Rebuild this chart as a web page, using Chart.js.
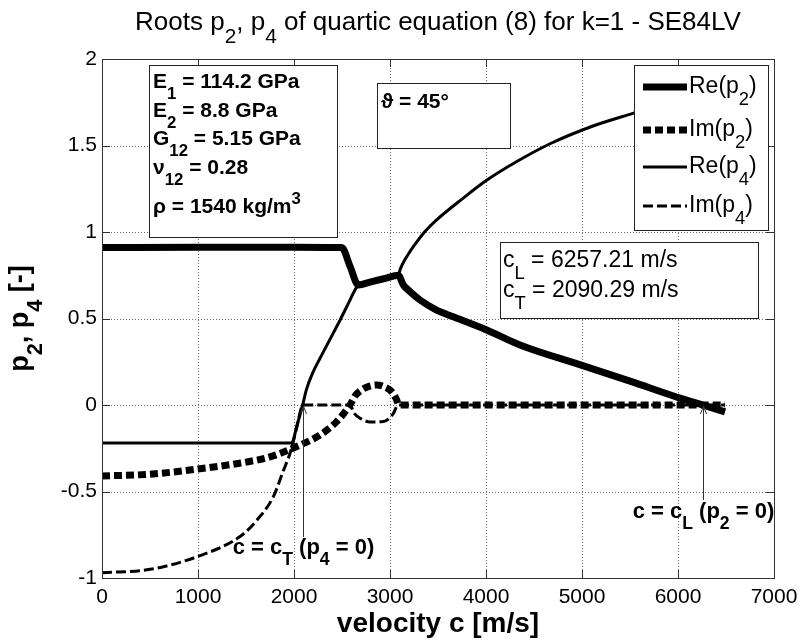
<!DOCTYPE html>
<html>
<head>
<meta charset="utf-8">
<script src="https://cdn.jsdelivr.net/npm/chart.js@4.4.0/dist/chart.umd.min.js"></script>
<style>
  body { margin: 0; background: #fff; }
  canvas { display: block; }
</style>
</head>
<body>
<canvas id="roots_chart" width="800" height="644"></canvas>
<script>
// velocities c [m/s] and root values
const cL = 6257.21;
const cT = 2090.29;

const reP2C = [0, 1000, 2000, 2497, 2585, 2670, 2800, 2950, 3086, 3139, 3200, 3313, 3480, 3660, 4007, 4354, 5000, 5500, 6020, 6257, 6490];
const reP2 = [0.91, 0.912, 0.912, 0.91, 0.8, 0.694, 0.712, 0.732, 0.75, 0.694, 0.66, 0.607, 0.55, 0.51, 0.434, 0.347, 0.229, 0.138, 0.04, 0, -0.04];

const imP2C = [0, 500, 1000, 1500, 1750, 2028, 2271, 2444, 2583, 2640, 2705, 2780, 2861, 2940, 3017, 3069, 3090, 4000, 5000, 6000, 6490];
const imP2 = [-0.41, -0.4, -0.37, -0.33, -0.3, -0.24, -0.173, -0.096, 0, 0.055, 0.087, 0.108, 0.116, 0.105, 0.077, 0.03, 0, 0, 0, 0, 0];

const reP4C = [0, 1000, 1976, 2030, 2090, 2130, 2190, 2271, 2380, 2479, 2560, 2635, 2670, 2800, 2950, 3086, 3110, 3150, 3200, 3243, 3360, 3486, 3750, 4010, 4330, 4667, 5100, 5552, 6000, 6490];
const reP4 = [-0.22, -0.22, -0.22, -0.12, 0, 0.09, 0.18, 0.27, 0.385, 0.49, 0.58, 0.665, 0.694, 0.712, 0.732, 0.75, 0.79, 0.835, 0.88, 0.915, 1.0, 1.07, 1.19, 1.3, 1.41, 1.51, 1.61, 1.69, 1.77, 1.85];

const imP4C = [0, 500, 1000, 1438, 1615, 1785, 1889, 1958, 2031, 2065, 2090, 2583, 2630, 2700, 2792, 2930, 3034, 3083, 3100, 6490];
const imP4 = [-0.97, -0.95, -0.875, -0.76, -0.665, -0.53, -0.38, -0.28, -0.125, -0.04, 0, 0, -0.05, -0.08, -0.098, -0.096, -0.05, 0, 0, 0];

const xTicks = [0, 1000, 2000, 3000, 4000, 5000, 6000, 7000];
const yTicks = [-1, -0.5, 0, 0.5, 1, 1.5, 2];

const seriesLabels = ["Re(p_2)", "Im(p_2)", "Re(p_4)", "Im(p_4)"];

const paramLines = [
  "E_1 = 114.2 GPa",
  "E_2 = 8.8 GPa",
  "G_{12} = 5.15 GPa",
  "\u03bd_{12} = 0.28",
  "\u03c1 = 1540 kg/m^3",
];

function pts(xs, ys) {
  return xs.map((x, i) => ({ x: x, y: ys[i] }));
}

const FONT = '"Liberation Sans", Arial, "DejaVu Sans", sans-serif';

// text with _sub and ^sup parts, like the tex strings of the original
function richText(ctx, str, x, y, size, weight, align) {
  let parts = [];
  let i = 0;
  while (i < str.length) {
    let ch = str[i];
    if ((ch === "_" || ch === "^") && i + 1 < str.length) {
      let txt;
      if (str[i + 1] === "{") {
        let j = str.indexOf("}", i);
        txt = str.slice(i + 2, j);
        i = j + 1;
      } else {
        txt = str[i + 1];
        i += 2;
      }
      parts.push({ t: txt, k: ch });
    } else {
      let j = i;
      while (j < str.length && str[j] !== "_" && str[j] !== "^") j++;
      parts.push({ t: str.slice(i, j), k: "" });
      i = j;
    }
  }
  let w = 0;
  parts.forEach((p) => {
    p.s = p.k ? size * 0.8 : size;
    ctx.font = weight + " " + p.s + "px " + FONT;
    p.w = ctx.measureText(p.t).width;
    w += p.w;
  });
  let cx = align === "center" ? x - w / 2 : align === "right" ? x - w : x;
  ctx.textAlign = "left";
  ctx.textBaseline = "alphabetic";
  parts.forEach((p) => {
    ctx.font = weight + " " + p.s + "px " + FONT;
    let dy = p.k === "_" ? size * 0.5 : p.k === "^" ? -size * 0.42 : 0;
    ctx.fillText(p.t, cx, y + dy);
    cx += p.w;
  });
  return w;
}

function box(ctx, x, y, w, h) {
  ctx.fillStyle = "#fff";
  ctx.fillRect(x, y, w, h);
  ctx.strokeStyle = "#222";
  ctx.lineWidth = 1;
  ctx.setLineDash([]);
  ctx.strokeRect(x + 0.5, y + 0.5, w, h);
}

function arrow(ctx, x, yFrom, yTo) {
  ctx.strokeStyle = "#333";
  ctx.lineWidth = 1;
  ctx.setLineDash([]);
  ctx.beginPath();
  ctx.moveTo(x, yFrom);
  ctx.lineTo(x, yTo);
  ctx.moveTo(x - 3, yTo + 8);
  ctx.lineTo(x, yTo);
  ctx.lineTo(x + 3, yTo + 8);
  ctx.stroke();
}

// dotted matlab style grid under the lines
const dottedGrid = {
  id: "dottedGrid",
  beforeDatasetsDraw(chart) {
    const ctx = chart.ctx;
    const a = chart.chartArea;
    const xs = chart.scales.x;
    const ys = chart.scales.y;
    ctx.save();
    ctx.fillStyle = "#6e6e6e";
    xTicks.forEach((v) => {
      let px = Math.round(xs.getPixelForValue(v));
      for (let y = Math.round(a.top); y < a.bottom; y += 3) ctx.fillRect(px, y, 1, 1);
    });
    yTicks.forEach((v) => {
      let py = Math.round(ys.getPixelForValue(v));
      for (let x = Math.round(a.left); x < a.right; x += 3) ctx.fillRect(x, py, 1, 1);
    });
    ctx.restore();
  },
};

const overlay = {
  id: "overlay",
  afterDraw(chart) {
    const ctx = chart.ctx;
    const a = chart.chartArea;
    const xs = chart.scales.x;
    const ys = chart.scales.y;
    ctx.save();

    // axes box and inward ticks
    ctx.strokeStyle = "#333";
    ctx.lineWidth = 1;
    ctx.setLineDash([]);
    ctx.strokeRect(Math.round(a.left) + 0.5, Math.round(a.top) + 0.5, Math.round(a.right - a.left), Math.round(a.bottom - a.top));
    ctx.beginPath();
    xTicks.forEach((v) => {
      let px = Math.round(xs.getPixelForValue(v)) + 0.5;
      ctx.moveTo(px, a.bottom);
      ctx.lineTo(px, a.bottom - 8);
      ctx.moveTo(px, a.top);
      ctx.lineTo(px, a.top + 8);
    });
    yTicks.forEach((v) => {
      let py = Math.round(ys.getPixelForValue(v)) + 0.5;
      ctx.moveTo(a.left, py);
      ctx.lineTo(a.left + 8, py);
      ctx.moveTo(a.right, py);
      ctx.lineTo(a.right - 8, py);
    });
    ctx.stroke();

    ctx.fillStyle = "#000";
    // title and axis labels
    richText(ctx, "Roots p_2, p_4 of quartic equation (8) for k=1 - SE84LV", (a.left + a.right) / 2, 30, 26, "normal", "center");
    ctx.fillStyle = "#000";
    richText(ctx, "velocity c [m/s]", (a.left + a.right) / 2, 632, 28, "bold", "center");
    ctx.save();
    ctx.translate(28, (a.top + a.bottom) / 2);
    ctx.rotate(-Math.PI / 2);
    ctx.fillStyle = "#000";
    richText(ctx, "p_2, p_4 [-]", 0, 0, 27, "bold", "center");
    ctx.restore();

    // text arrows at c_T and c_L
    let y0 = ys.getPixelForValue(0);
    let xT = Math.round(xs.getPixelForValue(cT)) + 0.5;
    let xL = Math.round(xs.getPixelForValue(cL)) + 0.5;
    arrow(ctx, xT, 537, y0 + 1);
    arrow(ctx, xL, 500, y0 + 1);
    ctx.fillStyle = "#000";
    richText(ctx, "c = c_T (p_4 = 0)", xT, 554, 22, "bold", "center");
    richText(ctx, "c = c_L (p_2 = 0)", xL, 518, 22, "bold", "center");

    // material parameters
    box(ctx, 149, 65, 188, 172);
    ctx.fillStyle = "#000";
    const paramY = [88, 117, 145, 174, 213];
    paramLines.forEach((t, i) => richText(ctx, t, 153, paramY[i], 21, "bold", "left"));

    // fibre angle
    box(ctx, 377, 83, 133, 65);
    ctx.fillStyle = "#000";
    richText(ctx, "\u03d1 = 45\u00b0", 381, 108, 21, "bold", "left");

    // bulk wave speeds
    box(ctx, 500, 242, 258, 76);
    ctx.fillStyle = "#000";
    richText(ctx, "c_L = " + cL.toFixed(2) + " m/s", 503, 267, 23, "normal", "left");
    richText(ctx, "c_T = " + cT.toFixed(2) + " m/s", 503, 297, 23, "normal", "left");

    // legend
    box(ctx, 634, 65, 134, 165);
    const rowY = [87, 130, 167, 206];
    chart.data.datasets.forEach((ds, i) => {
      ctx.strokeStyle = ds.borderColor;
      ctx.lineWidth = ds.borderWidth;
      ctx.lineCap = "butt";
      ctx.setLineDash(ds.borderDash || []);
      ctx.beginPath();
      ctx.moveTo(643, rowY[i]);
      ctx.lineTo(687, rowY[i]);
      ctx.stroke();
      ctx.setLineDash([]);
      ctx.fillStyle = "#000";
      richText(ctx, ds.label, 689, rowY[i] + 6, 23, "normal", "left");
    });

    ctx.restore();
  },
};

var rootsCtx = document.getElementById("roots_chart").getContext("2d");

var rootsChart = new Chart(rootsCtx, {
  type: "line",
  data: {
    datasets: [
      {
        label: seriesLabels[0],
        data: pts(reP2C, reP2),
        borderColor: "#000",
        borderWidth: 7,
      },
      {
        label: seriesLabels[1],
        data: pts(imP2C, imP2),
        borderColor: "#000",
        borderWidth: 7,
        borderDash: [8, 4],
      },
      {
        label: seriesLabels[2],
        data: pts(reP4C, reP4),
        borderColor: "#000",
        borderWidth: 3,
      },
      {
        label: seriesLabels[3],
        data: pts(imP4C, imP4),
        borderColor: "#000",
        borderWidth: 3,
        borderDash: [10, 4],
      },
    ],
  },
  options: {
    responsive: false,
    animation: false,
    events: [],
    layout: { padding: { left: 0, right: 26, top: 59, bottom: 0 } },
    elements: {
      point: { radius: 0 },
      line: { cubicInterpolationMode: "monotone", fill: false },
    },
    plugins: {
      legend: { display: false },
      title: { display: false },
      tooltip: { enabled: false },
    },
    scales: {
      x: {
        type: "linear",
        min: 0,
        max: 7000,
        afterBuildTicks: (scale) => {
          scale.ticks = xTicks.map((v) => ({ value: v }));
        },
        afterFit: (scale) => {
          scale.height = 66;
          scale.paddingLeft = 0;
          scale.paddingRight = 0;
        },
        ticks: {
          padding: 7,
          color: "#000",
          font: { family: FONT, size: 21 },
          maxRotation: 0,
          callback: (v) => String(v),
        },
        grid: { display: false, drawTicks: false },
        border: { display: true, color: "#333" },
      },
      y: {
        type: "linear",
        min: -1,
        max: 2,
        afterBuildTicks: (scale) => {
          scale.ticks = yTicks.map((v) => ({ value: v }));
        },
        afterFit: (scale) => {
          scale.width = 102;
          scale.paddingTop = 0;
          scale.paddingBottom = 0;
        },
        ticks: {
          padding: 5,
          color: "#000",
          font: { family: FONT, size: 21 },
          callback: (v) => String(v),
        },
        grid: { display: false, drawTicks: false },
        border: { display: true, color: "#333" },
      },
    },
  },
  plugins: [dottedGrid, overlay],
});
</script>
</body>
</html>
